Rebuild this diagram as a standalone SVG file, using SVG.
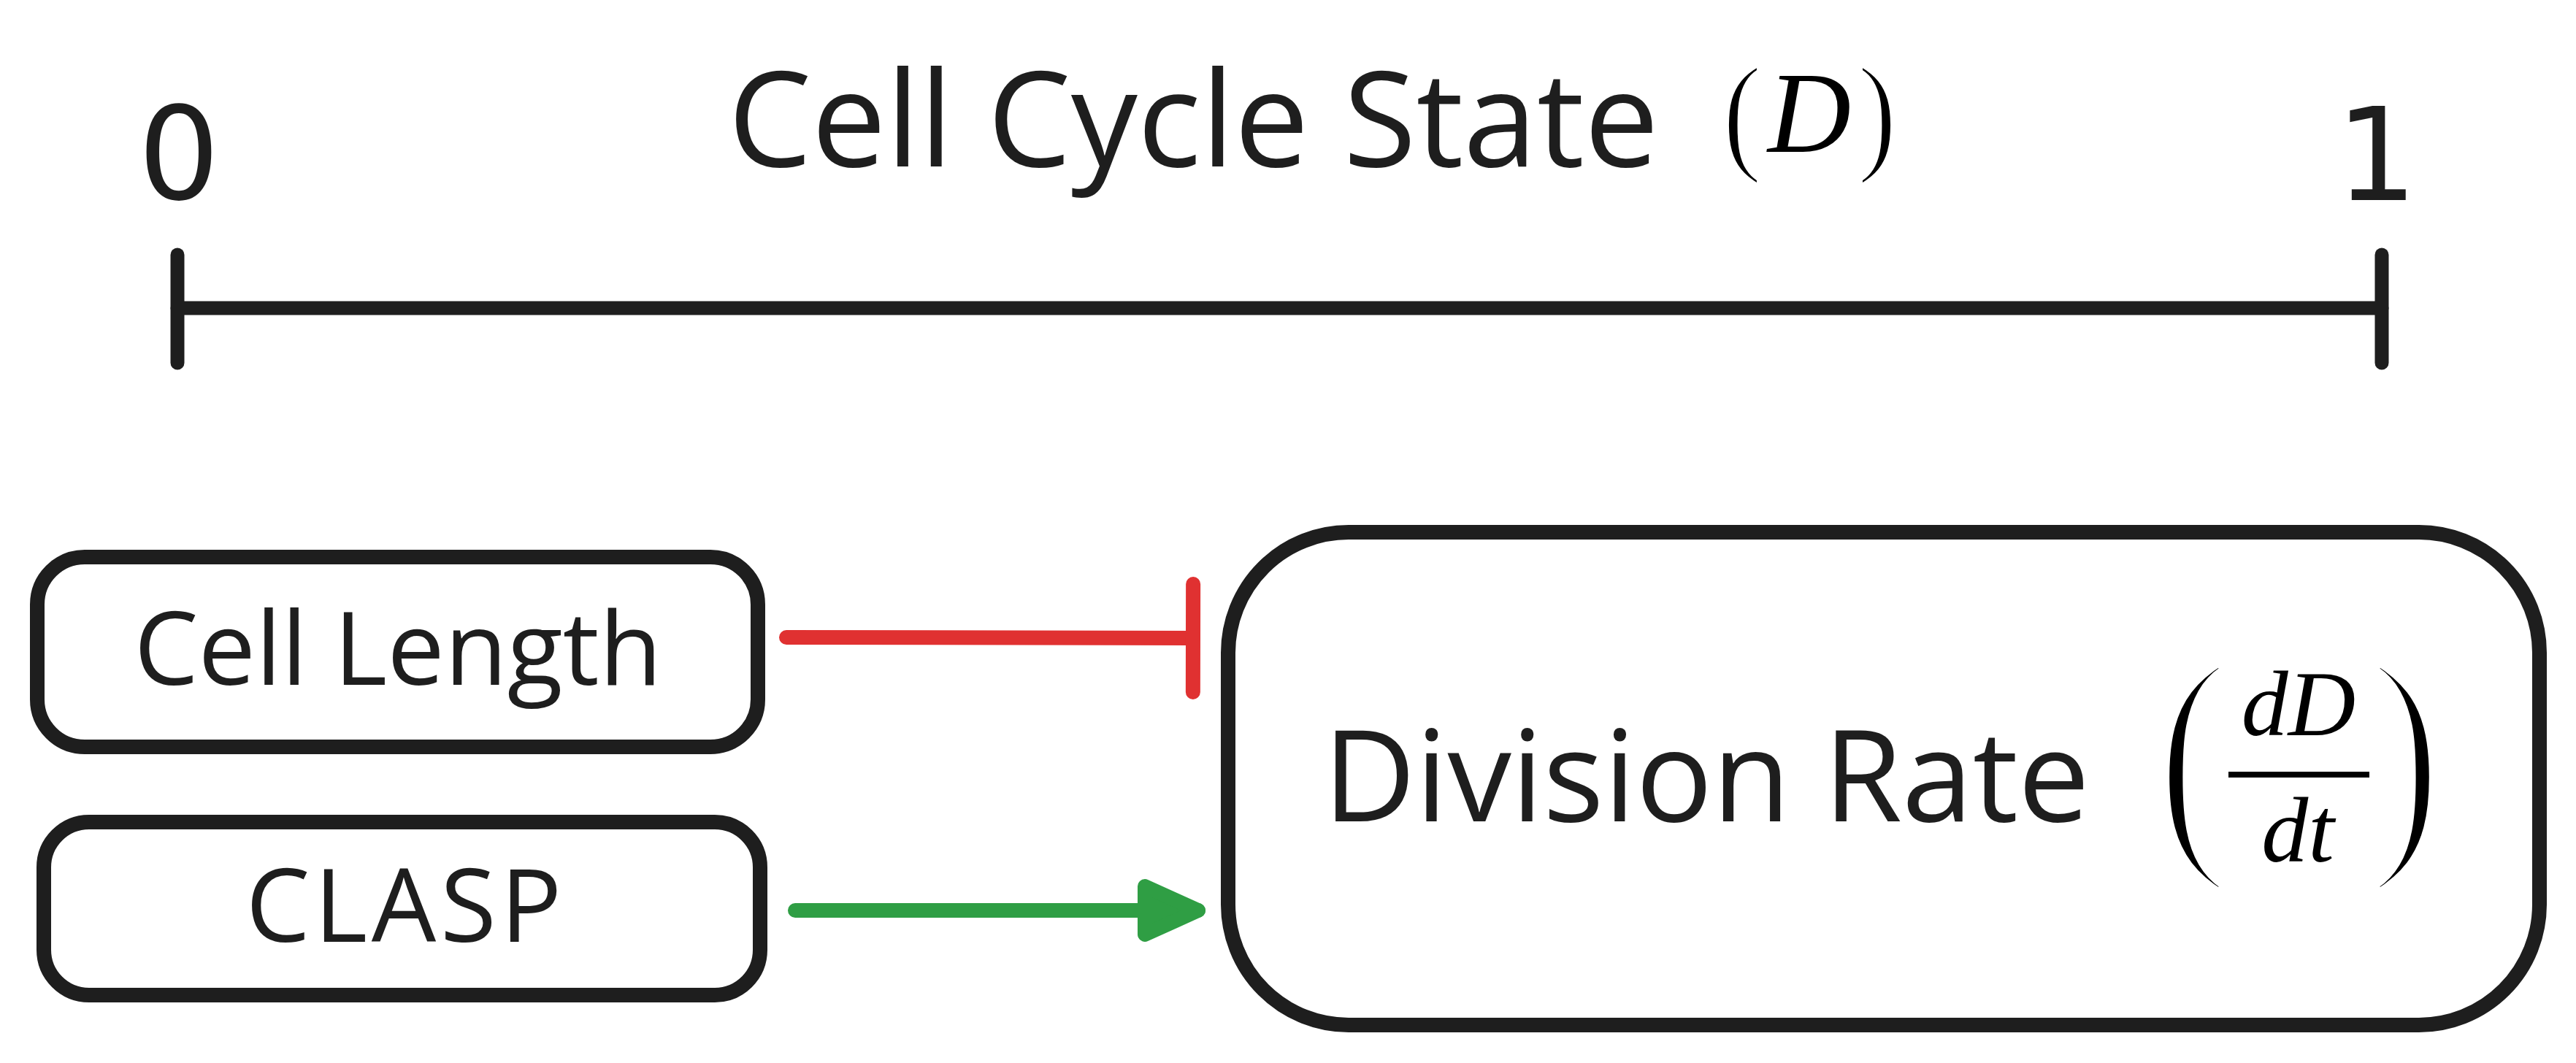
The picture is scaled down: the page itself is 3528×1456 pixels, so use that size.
<svg xmlns="http://www.w3.org/2000/svg" width="3528" height="1456" viewBox="0 0 3528 1456">
  <style>
    .box { fill: #ffffff; stroke: #1e1e1e; stroke-width: 20; }
    .lbl { font-family: "Open Sans", "Noto Sans", sans-serif; fill: #1e1e1e; }
    .digit { font-family: "DejaVu Sans", "Open Sans", sans-serif; fill: #1e1e1e; text-anchor: middle; }
    .math { font-family: "Liberation Serif", "Times New Roman", serif; fill: #000000; }
    .paren { font-family: "Liberation Serif", "Times New Roman", serif; fill: #000000; stroke: #ffffff; text-anchor: middle; }
    .axis { stroke: #1e1e1e; stroke-width: 19; stroke-linecap: round; fill: none; }
    .inhibit { stroke: #e03131; stroke-width: 20; stroke-linecap: round; fill: none; }
    .activate { stroke: #2f9e44; stroke-width: 20; stroke-linecap: round; fill: none; }
  </style>
  <defs>
    <marker id="tbar" markerUnits="userSpaceOnUse" viewBox="-20 -90 40 180" refX="0" refY="0" markerWidth="40" markerHeight="180" orient="auto" overflow="visible">
      <path d="M 0 -74 L 0 74" stroke="#e03131" stroke-width="20" stroke-linecap="round" fill="none"/>
    </marker>
    <marker id="arrow" markerUnits="userSpaceOnUse" viewBox="-100 -60 120 120" refX="0" refY="0" markerWidth="120" markerHeight="120" orient="auto" overflow="visible">
      <polygon points="-73,-33 0,0 -73,33" fill="#2f9e44" stroke="#2f9e44" stroke-width="20" stroke-linejoin="round"/>
    </marker>
  </defs>

  <rect width="3528" height="1456" fill="#ffffff"/>

  <!-- Axis -->
  <g id="axis">
    <line class="axis" x1="243" y1="422" x2="3262" y2="422"/>
    <line class="axis" x1="243" y1="349" x2="243" y2="497"/>
    <line class="axis" x1="3262" y1="349" x2="3262" y2="497"/>
    <text class="digit" x="245" y="273" font-size="176">0</text>
    <text class="digit" x="3255" y="274" font-size="176">1</text>
    <text class="lbl" x="997" y="228" font-size="182" textLength="1275">Cell Cycle State</text>
    <text class="paren" transform="translate(2386,215) scale(0.9,1)" font-size="180" stroke-width="4">(</text>
    <text class="math" x="2478" y="208" font-size="158" font-style="italic" text-anchor="middle">D</text>
    <text class="paren" transform="translate(2571,215) scale(0.9,1)" font-size="180" stroke-width="4">)</text>
  </g>

  <!-- Nodes -->
  <g id="node-cell-length">
    <rect class="box" x="51" y="763" width="987" height="260" rx="65" ry="65"/>
    <text class="lbl" x="545" y="938" font-size="140" text-anchor="middle">Cell Length</text>
  </g>
  <g id="node-clasp">
    <rect class="box" x="60" y="1126" width="981" height="237" rx="62" ry="62"/>
    <text class="lbl" x="553" y="1290" font-size="140" text-anchor="middle" textLength="433">CLASP</text>
  </g>
  <g id="node-division-rate">
    <rect class="box" x="1682" y="729" width="1796" height="675" rx="165" ry="165"/>
    <text class="lbl" x="1812" y="1125" font-size="175" textLength="1050">Division Rate</text>
    <text class="paren" transform="translate(3003,1150) scale(0.85,1)" font-size="354" stroke-width="12">(</text>
    <text class="math" x="3148" y="1007" font-size="128" font-style="italic" text-anchor="middle">dD</text>
    <rect x="3052" y="1057" width="193" height="8" fill="#000000"/>
    <text class="math" x="3147" y="1180" font-size="128" font-style="italic" text-anchor="middle">dt</text>
    <text class="paren" transform="translate(3295,1150) scale(0.85,1)" font-size="354" stroke-width="12">)</text>
  </g>

  <!-- Connectors -->
  <g id="connectors">
    <path class="inhibit" d="M 1077 873 L 1634 874" marker-end="url(#tbar)"/>
    <path class="activate" d="M 1089 1247 L 1641 1247" marker-end="url(#arrow)"/>
  </g>
</svg>
